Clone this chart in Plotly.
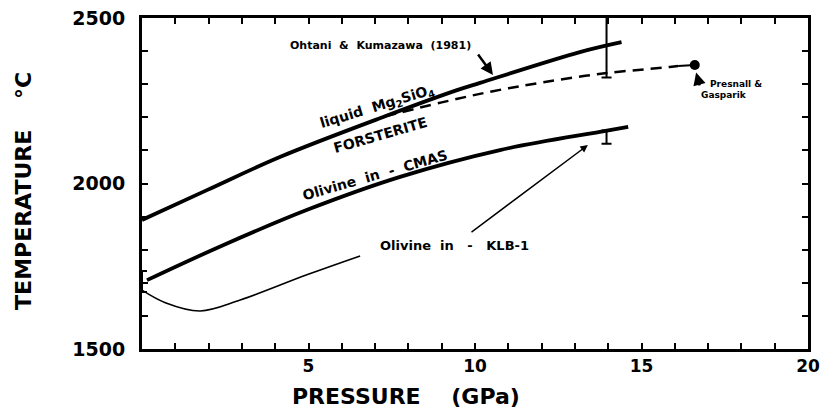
import plotly.graph_objects as go

# ---- data ----
liquid_p = [0.0, 1.95, 4.14, 7.3, 9.46, 10.15, 13.15, 14.4]
liquid_t = [1890, 1980, 2080, 2203, 2282, 2304, 2397, 2427]

forst_p = [7.3, 9.0, 10.5, 12.0, 13.9, 15.85, 16.1]
forst_t = [2203, 2245, 2278, 2305, 2333, 2352, 2355]

presnall_p = [16.6]
presnall_t = [2358]
link_p = [16.1, 16.6]
link_t = [2355, 2358]

cmas_p = [0.15, 2.4, 5.0, 7.75, 10.75, 13.75, 14.6]
cmas_t = [1708, 1812, 1922, 2020, 2101, 2156, 2171]

klb_p = [0.0, 0.7, 1.75, 2.95, 4.95, 6.55]
klb_t = [1678, 1640, 1615, 1648, 1724, 1781]

err0_p, err0_t, err0_e = [0.0], [1704], [32]
errtop_p, errtop_t, errtop_e = [13.95], [2415], [95]
errlow_p, errlow_t, errlow_minus = [13.95], [2160], [40]

x_ticks = list(range(0, 21))
x_labels = ["5", "10", "15", "20"]
y_ticks = list(range(1500, 2501, 100))
y_labels = ["1500", "2000", "2500"]

FONT = "DejaVu Sans"
BLK = "black"

fig = go.Figure()

fig.add_trace(go.Scatter(x=liquid_p, y=liquid_t, mode="lines",
                         line=dict(color=BLK, width=3.8, shape="spline")))
fig.add_trace(go.Scatter(x=forst_p, y=forst_t, mode="lines",
                         line=dict(color=BLK, width=2.5, dash="11px,7px", shape="spline")))
fig.add_trace(go.Scatter(x=link_p, y=link_t, mode="lines",
                         line=dict(color=BLK, width=2)))
fig.add_trace(go.Scatter(x=presnall_p, y=presnall_t, mode="markers",
                         marker=dict(color=BLK, size=10)))
fig.add_trace(go.Scatter(x=cmas_p, y=cmas_t, mode="lines",
                         line=dict(color=BLK, width=3.8, shape="spline")))
fig.add_trace(go.Scatter(x=klb_p, y=klb_t, mode="lines",
                         line=dict(color=BLK, width=1.6, shape="spline")))

for xs, ys, up, dn in [(err0_p, err0_t, err0_e, err0_e),
                       (errtop_p, errtop_t, errtop_e, errtop_e),
                       (errlow_p, errlow_t, [0], errlow_minus)]:
    fig.add_trace(go.Scatter(x=xs, y=ys, mode="markers", cliponaxis=False,
                             marker=dict(size=1, color=BLK, opacity=0),
                             error_y=dict(type="data", symmetric=False, array=up,
                                          arrayminus=dn, color=BLK, thickness=2, width=5)))

ticktext_x = [str(v) if str(v) in x_labels else "" for v in x_ticks]
ticktext_y = [str(v) if str(v) in y_labels else "" for v in y_ticks]

axis_common = dict(showline=True, linewidth=3, linecolor=BLK, mirror="ticks",
                   ticks="inside", ticklen=6, tickwidth=2, tickcolor=BLK,
                   showgrid=False, zeroline=False, tickmode="array", automargin=False)

fig.update_xaxes(range=[0, 20], tickvals=x_ticks, ticktext=ticktext_x,
                 tickfont=dict(family=FONT, size=17, color=BLK, weight="bold"),
                 ticklabelstandoff=0, **axis_common)
fig.update_yaxes(range=[1500, 2500], tickvals=y_ticks, ticktext=ticktext_y,
                 tickfont=dict(family=FONT, size=19, color=BLK, weight="bold"),
                 ticklabelstandoff=10, **axis_common)

def label(text, x, y, size, angle=0, xanchor="center", xref="x", yref="y"):
    fig.add_annotation(text=text, x=x, y=y, xref=xref, yref=yref, showarrow=False,
                       textangle=angle, xanchor=xanchor, yanchor="middle",
                       font=dict(family=FONT, size=size, color=BLK, weight="bold"))

def arrow(x, y, ax, ay, width):
    fig.add_annotation(x=x, y=y, ax=ax, ay=ay, xref="x", yref="y", axref="x", ayref="y",
                       text="", showarrow=True, arrowhead=2, arrowsize=1,
                       arrowwidth=width, arrowcolor=BLK)

label("Ohtani  &  Kumazawa  (1981)", 7.15, 2418, 11)
label("liquid  Mg<sub>2</sub>SiO<sub>4</sub>", 7.06, 2230, 14, -17)
label("FORSTERITE", 7.15, 2147, 14, -16)
label("Olivine  in  -  CMAS", 7.0, 2026, 14, -16)
label("Olivine  in   -   KLB-1", 9.37, 1814, 13)
label("Presnall &", 17.0, 2302, 9, xanchor="left")
label("Gasparik", 16.72, 2268, 9, xanchor="left")

arrow(10.54, 2328, 10.06, 2394, 2.5)
arrow(13.39, 2116, 9.85, 1850, 1.5)
arrow(16.64, 2335, 16.76, 2292, 2.5)

# axis titles
label("TEMPERATURE    °C", -0.179, 0.477, 22, -90, xref="paper", yref="paper")
label("PRESSURE    (GPa)", 0.396, -0.145, 22, xref="paper", yref="paper")

fig.update_layout(width=822, height=417, showlegend=False,
                  margin=dict(l=142, r=14, t=18, b=68, autoexpand=False),
                  paper_bgcolor="white", plot_bgcolor="white")

fig.write_html("out.html")
